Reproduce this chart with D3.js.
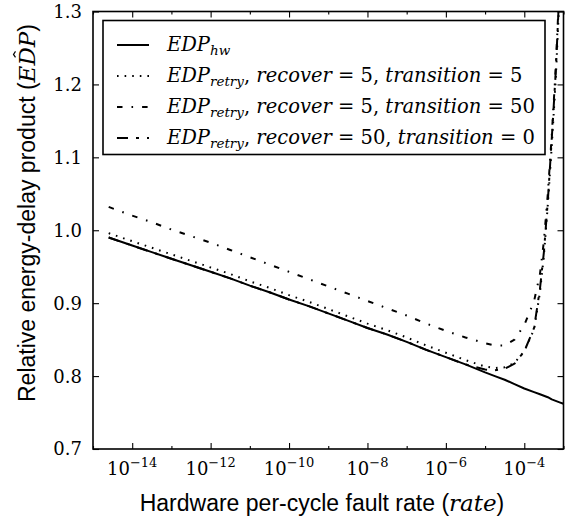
<!DOCTYPE html>
<html>
<head>
<meta charset="utf-8">
<script src="https://cdn.jsdelivr.net/npm/d3@7"></script>
<style>
  html, body { margin: 0; padding: 0; background: #fff; }
  svg { display: block; }
</style>
</head>
<body>
<svg id="chart" width="567" height="521"></svg>
<script>
// ---------------- data ----------------
const rateExp = [-14.6, -14, -13.5, -13, -12.5, -12, -11.5, -11, -10.5, -10, -9.5, -9, -8.5, -8,
  -7.5, -7, -6.5, -6, -5.5, -5, -4.75, -4.5, -4.25, -4, -3.75, -3.6, -3.5, -3.4, -3.3, -3.2, -3.1, -3.0];

const edpHw = [0.990, 0.979, 0.970, 0.961, 0.952, 0.943, 0.934, 0.924, 0.915, 0.905, 0.896, 0.886, 0.876, 0.866,
  0.857, 0.847, 0.836, 0.826, 0.816, 0.805, 0.800, 0.795, 0.789, 0.783, 0.778, 0.775, 0.773, 0.771, 0.768, 0.766, 0.764, 0.762];

const edpRetry_r5_t5 = [0.996, 0.985, 0.976, 0.967, 0.958, 0.949, 0.940, 0.930, 0.921, 0.911, 0.902, 0.892, 0.882, 0.872,
  0.863, 0.853, 0.842, 0.832, 0.822, 0.813, 0.811, 0.812, 0.818, 0.834, 0.864, 0.915, 0.965, 1.035, 1.115, 1.205, 1.325, 1.500];

const edpRetry_r5_t50 = [1.032, 1.020, 1.011, 1.001, 0.992, 0.983, 0.973, 0.963, 0.953, 0.943, 0.933, 0.923, 0.913, 0.903,
  0.893, 0.883, 0.872, 0.862, 0.853, 0.845, 0.842, 0.842, 0.850, 0.870, 0.903, 0.940, 0.985, 1.050, 1.130, 1.220, 1.340, 1.500];

const edpRetry_r50_t0 = [0.990, 0.979, 0.970, 0.961, 0.952, 0.943, 0.934, 0.924, 0.915, 0.905, 0.896, 0.886, 0.876, 0.866,
  0.857, 0.847, 0.836, 0.826, 0.816, 0.809, 0.808, 0.810, 0.817, 0.834, 0.866, 0.920, 0.970, 1.040, 1.125, 1.215, 1.335, 1.500];

const recoverVals = [5, 5, 50];
const transitionVals = [5, 50, 0];

const xMajorExp = [-14, -12, -10, -8, -6, -4];
const xMinorExp = [-15, -13, -11, -9, -7, -5, -3];
const yTicks = [0.7, 0.8, 0.9, 1.0, 1.1, 1.2, 1.3];

// ---------------- layout ----------------
const L = 93, R = 563.5, T = 11.5, B = 449;
const svg = d3.select("#chart");
const x = d3.scaleLog().domain([1e-15, 1e-3]).range([L, R]);
const y = d3.scaleLinear().domain([0.7, 1.3]).range([B, T]);

const serif = "'DejaVu Serif', serif";
const sans = "'Liberation Sans', Arial, sans-serif";

svg.append("defs").append("clipPath").attr("id", "plotclip")
  .append("rect").attr("x", L).attr("y", T).attr("width", R - L).attr("height", B - T);

// ---------------- lines ----------------
const series = [
  { vals: edpHw, dash: null },
  { vals: edpRetry_r5_t5, dash: "1.6,6" },
  { vals: edpRetry_r5_t50, dash: "5.5,9,1.6,9" },
  { vals: edpRetry_r50_t0, dash: "11,8,3,8" }
];
const line = d3.line()
  .x((d, i) => x(Math.pow(10, rateExp[i])))
  .y(d => y(d));

const gLines = svg.append("g").attr("clip-path", "url(#plotclip)");
[3, 1, 2, 0].forEach(k => {
  const s = series[k];
  gLines.append("path")
    .attr("d", line(s.vals))
    .attr("fill", "none")
    .attr("stroke", "#000")
    .attr("stroke-width", 2)
    .attr("stroke-dasharray", s.dash)
    .attr("stroke-linejoin", "round");
});

// ---------------- axes (inward ticks) ----------------
const xm = xMajorExp.map(e => Math.pow(10, e));
const xn = xMinorExp.map(e => Math.pow(10, e));
svg.append("g").attr("transform", `translate(0,${B})`)
  .call(d3.axisBottom(x).tickValues(xm).tickSize(-6).tickSizeOuter(0).tickFormat(""));
svg.append("g").attr("transform", `translate(0,${B})`)
  .call(d3.axisBottom(x).tickValues(xn).tickSize(-3).tickSizeOuter(0).tickFormat(""));
svg.append("g").attr("transform", `translate(0,${T})`)
  .call(d3.axisTop(x).tickValues(xm).tickSize(-6).tickSizeOuter(0).tickFormat(""));
svg.append("g").attr("transform", `translate(0,${T})`)
  .call(d3.axisTop(x).tickValues(xn).tickSize(-3).tickSizeOuter(0).tickFormat(""));
svg.append("g").attr("transform", `translate(${L},0)`)
  .call(d3.axisLeft(y).tickValues(yTicks).tickSize(-6).tickSizeOuter(0).tickFormat(""));
svg.append("g").attr("transform", `translate(${R},0)`)
  .call(d3.axisRight(y).tickValues(yTicks).tickSize(-6).tickSizeOuter(0).tickFormat(""));
svg.selectAll(".domain").remove();
svg.selectAll(".tick line").attr("stroke", "#000").attr("stroke-width", 1.1);

// frame
svg.append("rect").attr("x", L).attr("y", T).attr("width", R - L).attr("height", B - T)
  .attr("fill", "none").attr("stroke", "#000").attr("stroke-width", 1.6);

// y tick labels
svg.append("g").selectAll("text").data(yTicks).join("text")
  .attr("x", 82).attr("y", d => y(d)).attr("dy", "0.36em")
  .attr("text-anchor", "end")
  .attr("font-family", serif).attr("font-size", 18)
  .text(d => d.toFixed(1));

// x tick labels 10^e
const xl = svg.append("g").selectAll("text").data(xMajorExp).join("text")
  .attr("x", e => x(Math.pow(10, e)))
  .attr("y", 475)
  .attr("text-anchor", "middle")
  .attr("font-family", serif);
xl.append("tspan").attr("font-size", 18).text("10");
xl.append("tspan").attr("font-size", 13).attr("dy", -8).text(e => "\u2212" + Math.abs(e));

// x axis label
const xlab = svg.append("text")
  .attr("x", 322).attr("y", 511)
  .attr("text-anchor", "middle")
  .attr("font-size", 23);
xlab.append("tspan").attr("font-family", sans).text("Hardware per-cycle fault rate (");
xlab.append("tspan").attr("font-family", serif).attr("font-style", "italic").text("rate");
xlab.append("tspan").attr("font-family", sans).text(")");

// y axis label
const yg = svg.append("g").attr("transform", `translate(34.5,213) rotate(-90)`);
const ylab = yg.append("text").attr("text-anchor", "middle").attr("font-size", 23);
ylab.append("tspan").attr("font-family", sans).text("Relative energy-delay product (");
ylab.append("tspan").attr("font-family", serif).attr("font-style", "italic").text("EDP");
ylab.append("tspan").attr("font-family", sans).text(")");
// hat over the D of EDP
{
  const full = "Relative energy-delay product (";
  const node = ylab.node();
  const iD = full.length + 1;
  const p0 = node.getStartPositionOfChar(iD);
  const p1 = node.getEndPositionOfChar(iD);
  const cx = (p0.x + p1.x) / 2 + 2;
  const top = p0.y - 21;
  yg.append("path")
    .attr("d", `M${cx - 3},${top + 2}L${cx},${top}L${cx + 3},${top + 2}`)
    .attr("fill", "none").attr("stroke", "#000").attr("stroke-width", 1.2);
}

// ---------------- legend ----------------
const lg = svg.append("g");
lg.append("rect").attr("x", 103).attr("y", 20.5).attr("width", 442).attr("height", 134)
  .attr("fill", "#fff").attr("stroke", "#000").attr("stroke-width", 1.6);
const rowY = [45, 76, 107, 138];
series.forEach((s, i) => {
  lg.append("line").attr("x1", 117).attr("x2", 149).attr("y1", rowY[i]).attr("y2", rowY[i])
    .attr("stroke", "#000").attr("stroke-width", 2).attr("stroke-dasharray", s.dash);
  const t = lg.append("text").attr("x", 167).attr("y", rowY[i] + 6)
    .attr("font-family", serif).attr("font-size", 19.5);
  t.append("tspan").attr("font-style", "italic").text("EDP");
  if (i === 0) {
    t.append("tspan").attr("font-style", "italic").attr("font-size", 13.5).attr("dy", 4).text("hw");
  } else {
    const k = i - 1;
    t.append("tspan").attr("font-style", "italic").attr("font-size", 13.5).attr("dy", 4).text("retry");
    t.append("tspan").attr("dy", -4).text(", ");
    t.append("tspan").attr("font-style", "italic").text("recover");
    t.append("tspan").text(" = " + recoverVals[k] + ", ");
    t.append("tspan").attr("font-style", "italic").text("transition");
    t.append("tspan").text(" = " + transitionVals[k]);
  }
});
</script>
</body>
</html>
